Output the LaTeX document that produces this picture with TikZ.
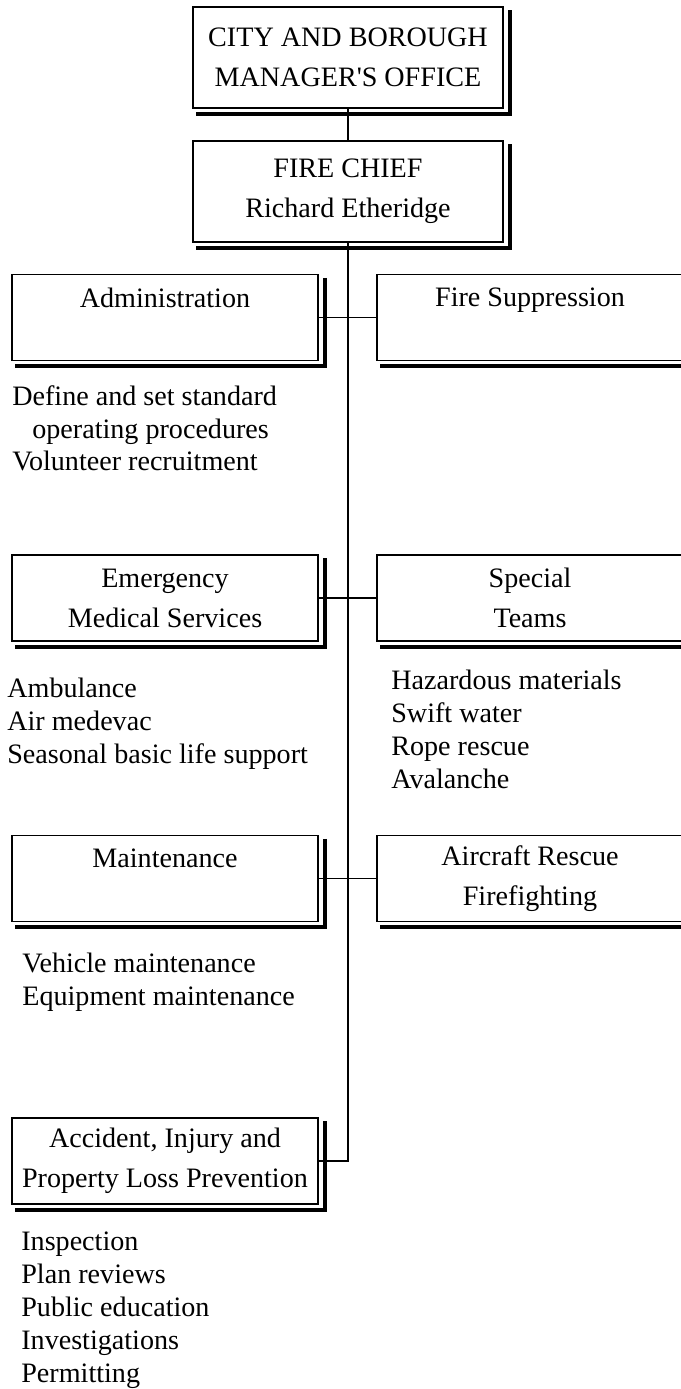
\documentclass[tikz,border=0pt]{standalone}
\usepackage{fontspec}
\setmainfont{Liberation Serif}
\usepackage{tikz}

\begin{document}
\begin{tikzpicture}[x=0.02cm, y=-0.02cm, box/.style={draw, fill=white, line width=0.8pt, minimum width=6.12cm, minimum height=1.72cm, inner sep=0pt, align=center, font=\fontsize{16}{22.7}\selectfont}, headbox/.style={box, minimum width=6.2cm, minimum height=2.02cm}, list/.style={anchor=north west, inner sep=0pt, align=left, font=\fontsize{16}{18.7}\selectfont}, shd/.style={line width=0.08cm}, n/.style={line width=0.8pt}]
            \useasboundingbox (0,0) rectangle (680,1389);
            % boxes
            \node[headbox] (office) at (348,57.5) {CITY AND BOROUGH\\MANAGER\textquotesingle S OFFICE};
            \node[headbox] (chief) at (348,191.5) {FIRE CHIEF\\Richard Etheridge};

            \node[box] (admin) at (165,317.5) {Administration\\~};
            \node[box] (supp) at (530,317.5) {Fire Suppression\\~};

            \node[box] (ems) at (165,598) {Emergency\\Medical Services};
            \node[box] (teams) at (530,598) {Special\\Teams};

            \node[box] (maint) at (165,878.5) {Maintenance\\~};
            \node[box] (arff) at (530,878.5) {Aircraft Rescue\\Firefighting};

            \node[box] (prev) at (165,1161) {Accident, Injury and\\Property Loss Prevention};
            % shadows
            \foreach \b in {office,chief,admin,supp,ems,teams,maint,arff,prev}
                \draw[shd] ([shift={(6,4)}]\b.north east) -- ([shift={(6,5)}]\b.south east) -- ([shift={(4,5)}]\b.south west);
            % lines
            \draw[n] (office) -- (chief);
            \draw[n] (chief.south) |- (prev.east);
            \draw[n] (admin) -- (supp);
            \draw[n] (ems) -- (teams);
            \draw[n] (maint) -- (arff);
            % duties
            \node[list] (adminlist) at (12,385) {Define and set standard\\\hspace*{0.4cm}operating procedures\\Volunteer recruitment};
            \node[list] (emslist) at (7,678) {Ambulance\\Air medevac\\Seasonal basic life support};
            \node[list] (teamslist) at (391,670) {Hazardous materials\\Swift water\\Rope rescue\\Avalanche};
            \node[list] (maintlist) at (22,953) {Vehicle maintenance\\Equipment maintenance};
            \node[list] (prevlist) at (21,1232) {Inspection\\Plan reviews\\Public education\\Investigations\\Permitting};
\end{tikzpicture}
\end{document}
